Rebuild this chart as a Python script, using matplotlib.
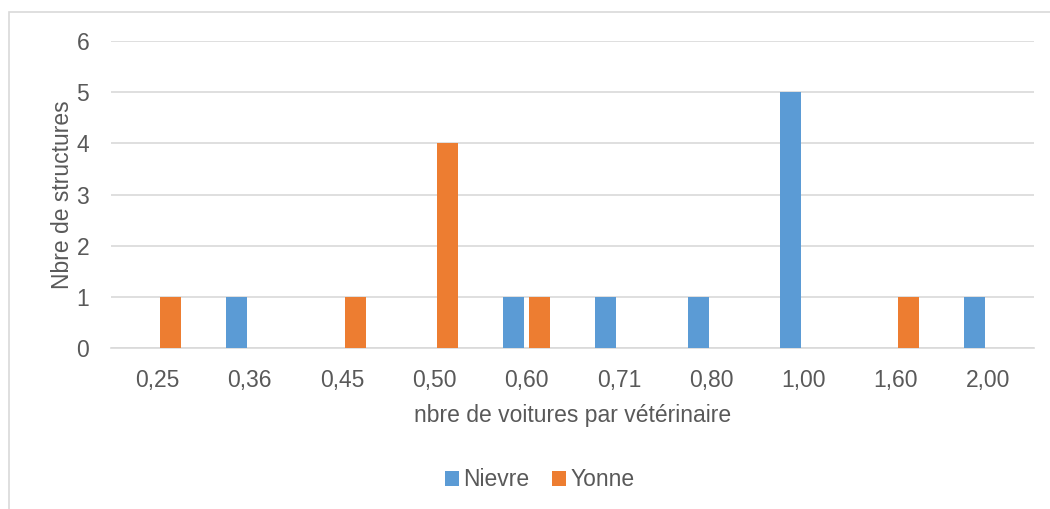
import numpy as np
import matplotlib
matplotlib.use("Agg")
import matplotlib.pyplot as plt
from matplotlib.patches import Rectangle

categories = ['0,25', '0,36', '0,45', '0,50', '0,60', '0,71', '0,80', '1,00', '1,60', '2,00']
nievre = [0, 1, 0, 0, 1, 1, 1, 5, 0, 1]
yonne = [1, 0, 1, 4, 1, 0, 0, 0, 1, 0]
series_names = ['Nievre', 'Yonne']
y_ticks = [0, 1, 2, 3, 4, 5, 6]

BLUE = '#5B9BD5'
ORANGE = '#ED7D31'
TEXT = '#595959'
GRID = '#D9D9D9'
FS = 16.5

plt.rcParams['font.family'] = ['Liberation Sans', 'DejaVu Sans']

W, H = 1050, 509
fig = plt.figure(figsize=(W / 100, H / 100), dpi=100)
fig.patch.set_facecolor('white')

# chart-area frame (extends beyond the right and bottom edges)
frame = Rectangle((8.5 / W, -0.2), 1.2, 1.2 - 11.5 / H,
                  transform=fig.transFigure, fill=False,
                  edgecolor=GRID, linewidth=1.2, clip_on=False)
fig.patches.append(frame)

ax = fig.add_axes([111.4 / W, (H - 348) / H, (1034 - 111.4) / W, (348 - 41) / H])

x = np.arange(len(categories))
bw = 0.228
gap = 0.054
off = bw / 2 + gap / 2
ax.bar(x - off, nievre, width=bw, color=BLUE, linewidth=0, label=series_names[0], zorder=3)
ax.bar(x + off, yonne, width=bw, color=ORANGE, linewidth=0, label=series_names[1], zorder=3)

ax.set_xlim(-0.5, len(categories) - 0.5)
ax.set_ylim(0, 6)
ax.set_yticks(y_ticks)
ax.set_xticks(x)
ax.set_xticklabels(categories)

ax.yaxis.grid(True, color=GRID, linewidth=1.2, zorder=0)
ax.set_axisbelow(True)
for s in ['top', 'right', 'left']:
    ax.spines[s].set_visible(False)
ax.spines['bottom'].set_color(GRID)
ax.spines['bottom'].set_linewidth(1.2)

ax.tick_params(axis='both', length=0, labelsize=FS, colors=TEXT)
ax.tick_params(axis='y', pad=16)
ax.tick_params(axis='x', pad=15)

ax.set_xlabel('nbre de voitures par vétérinaire', fontsize=FS, color=TEXT, labelpad=9)
ax.set_ylabel('Nbre de structures', fontsize=FS, color=TEXT, labelpad=2)

leg = fig.legend(loc='center', bbox_to_anchor=(540 / W, (H - 480) / H), ncol=2,
                 frameon=False, fontsize=FS, handlelength=0.6, handleheight=0.6,
                 handletextpad=0.2, columnspacing=1.0, labelcolor=TEXT)

fig.savefig('out.png', dpi=100, facecolor='white')
